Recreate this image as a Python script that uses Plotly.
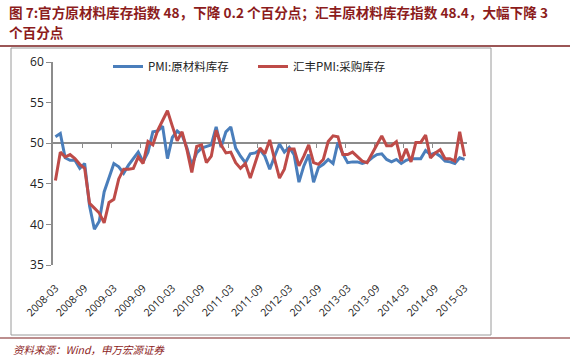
import plotly.graph_objects as go

# ---- data ----
start_year, start_month = 2008, 3
n_months = 85
months = []
y_, m_ = start_year, start_month
for _ in range(n_months):
    months.append(f"{y_}-{m_:02d}")
    m_ += 1
    if m_ > 12:
        m_ = 1
        y_ += 1

pmi_inventory = [
    50.8, 51.2, 48.2, 47.9, 47.9, 46.9, 47.5, 42.3, 39.4, 40.4,
    44.0, 45.8, 47.5, 47.1, 46.3, 47.3, 48.1, 48.9, 47.7, 48.9,
    51.4, 51.5, 52.1, 48.1, 50.7, 51.5, 51.0, 49.4, 47.3, 48.8,
    49.4, 49.6, 49.8, 52.0, 49.5, 51.4, 52.0, 49.4, 48.4, 47.6,
    48.7, 48.8, 49.2, 48.4, 46.8, 48.4, 49.9, 48.9, 49.5, 48.6,
    45.2, 47.2, 48.6, 45.2, 47.0, 47.4, 48.0, 47.5, 50.1, 48.7,
    47.6, 47.7, 47.7, 47.5, 47.7, 48.2, 48.6, 48.7, 48.0, 47.7,
    48.0, 47.5, 47.9, 48.1, 48.1, 48.1, 49.1, 48.6, 48.8, 48.4,
    47.8, 47.7, 47.5, 48.2, 48.0,
]
hsbc_inventory = [
    45.4, 48.9, 48.3, 48.6, 48.1, 47.4, 46.9, 42.6, 42.0, 41.4,
    40.2, 42.7, 43.1, 45.6, 46.8, 46.8, 46.9, 48.3, 47.5, 50.2,
    49.8, 51.6, 52.8, 54.0, 52.1, 50.3, 51.4, 49.2, 46.4, 49.6,
    49.8, 47.6, 48.4, 51.6, 49.8, 48.8, 48.9, 47.6, 46.9, 47.5,
    45.7, 47.6, 49.4, 48.7, 50.4, 48.0, 45.7, 46.8, 49.3, 49.3,
    47.2, 48.4, 49.8, 47.6, 47.4, 48.0, 50.2, 50.9, 50.8, 48.6,
    48.6, 48.9, 48.4, 47.8, 47.6, 48.8, 49.8, 50.9, 49.7, 49.7,
    50.2, 47.8, 49.3, 47.7, 50.1, 50.1, 51.0, 48.2, 48.8, 49.2,
    48.1, 48.1, 47.8, 51.4, 48.4,
]
series_names = ["PMI:原材料库存", "汇丰PMI:采购库存"]
y_ticks = [35, 40, 45, 50, 55, 60]
label_step = 6

title_line1 = "图 7:官方原材料库存指数 48，下降 0.2 个百分点；汇丰原材料库存指数 48.4，大幅下降 3"
title_line2 = "个百分点"
source_text = "资料来源：Wind，申万宏源证券"

# ---- layout geometry (pixels) ----
W, H = 570, 359
L, R, T, B = 53, 103, 62, 94
pw, ph = W - L - R, H - T - B

def px_x(p):
    return (p - L) / pw

def px_y(p):
    return (H - B - p) / ph

BLUE = "#4A7EBB"
RED = "#BE4B48"
DARKRED = "#8C1C1C"
GREY = "#8C8C8C"
CJK = "Noto Sans CJK SC"

fig = go.Figure()
fig.add_trace(go.Scatter(x=list(range(len(months))), y=pmi_inventory, mode="lines",
                         name=series_names[0], line=dict(color=BLUE, width=3)))
fig.add_trace(go.Scatter(x=list(range(len(months))), y=hsbc_inventory, mode="lines",
                         name=series_names[1], line=dict(color=RED, width=3)))
# helper trace for the axis drawn at y=50
fig.add_trace(go.Scatter(x=[0], y=[None], xaxis="x2", yaxis="y", showlegend=False,
                         hoverinfo="skip", mode="lines"))

label_idx = list(range(0, len(months), label_step))
boundary_ticks = [k - 0.5 for k in range(label_step, len(months), label_step)]
xr = [-0.5, len(months) - 0.5]

fig.update_layout(
    width=W, height=H,
    margin=dict(l=L, r=R, t=T, b=B),
    paper_bgcolor="white", plot_bgcolor="white",
    font=dict(family=CJK, size=11, color="#222"),
    showlegend=True,
    legend=dict(orientation="h", x=px_x(108), y=px_y(52), xanchor="left", yanchor="top",
                bgcolor="rgba(0,0,0,0)", font=dict(family=CJK, size=11.5, color="#222"),
                entrywidth=100, itemwidth=30, tracegroupgap=0),
    xaxis=dict(range=xr, tickmode="array", tickvals=label_idx,
               ticktext=[months[i] for i in label_idx], tickangle=-45,
               showline=False, ticks="outside", ticklen=12, tickcolor="rgba(0,0,0,0)",
               showgrid=False, zeroline=False,
               tickfont=dict(family="Open Sans", size=10.5, color="#222")),
    xaxis2=dict(range=xr, overlaying="x", anchor="free", position=(50 - 35) / (60 - 35),
                showline=True, linecolor=GREY, linewidth=1.5, ticks="outside",
                tickvals=boundary_ticks, ticklen=4, tickcolor=GREY,
                showticklabels=False, showgrid=False, zeroline=False, layer="below traces"),
    yaxis=dict(range=[35, 60], tickvals=y_ticks, showline=True, linecolor=GREY,
               linewidth=1.5, ticks="outside", ticklen=5, tickcolor=GREY,
               showgrid=False, zeroline=False,
               tickfont=dict(family="Open Sans", size=12, color="#222")),
)

# chart frame and decorative rules
fig.add_shape(type="rect", xref="paper", yref="paper",
              x0=px_x(11), x1=px_x(491), y0=px_y(335), y1=px_y(48),
              line=dict(color="#9A9A9A", width=1), layer="below")
fig.add_shape(type="line", xref="paper", yref="paper",
              x0=px_x(0), x1=px_x(570), y0=px_y(46), y1=px_y(46),
              line=dict(color="#7A1E1E", width=1.5))
fig.add_shape(type="line", xref="paper", yref="paper",
              x0=px_x(0), x1=px_x(570), y0=px_y(338), y1=px_y(338),
              line=dict(color="#7A1E1E", width=1.2))

fig.add_annotation(text="<b>" + title_line1 + "</b>", xref="paper", yref="paper",
                   x=px_x(7), y=px_y(12), xanchor="left", yanchor="middle", align="left",
                   showarrow=False, font=dict(family=CJK, size=13.6, color=DARKRED))
fig.add_annotation(text="<b>" + title_line2 + "</b>", xref="paper", yref="paper",
                   x=px_x(7), y=px_y(32), xanchor="left", yanchor="middle", align="left",
                   showarrow=False, font=dict(family=CJK, size=13.6, color=DARKRED))
fig.add_annotation(text="<i>" + source_text + "</i>", xref="paper", yref="paper",
                   x=px_x(11), y=px_y(349), xanchor="left", yanchor="middle",
                   showarrow=False, font=dict(family=CJK, size=10.5, color=DARKRED))

fig.write_html("out.html", config={"displayModeBar": False},
               post_script="document.body.style.margin='0';document.body.style.overflow='hidden';")
